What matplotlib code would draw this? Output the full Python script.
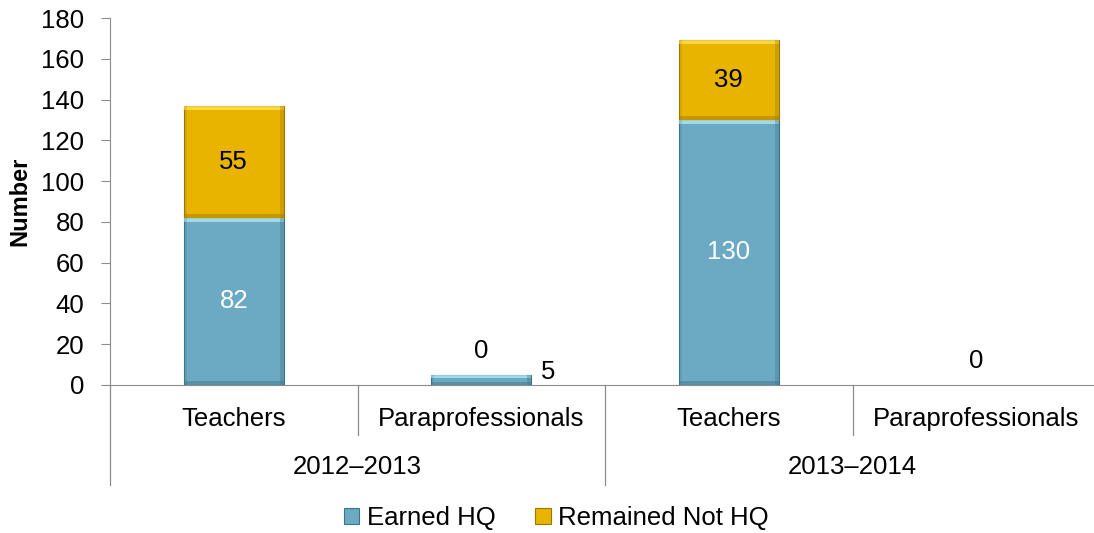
import matplotlib
matplotlib.use("Agg")
from matplotlib import pyplot as plt
from matplotlib.patches import Rectangle, Patch
from matplotlib.lines import Line2D
from matplotlib.legend_handler import HandlerPatch

plt.rcParams["font.family"] = ["Liberation Sans", "DejaVu Sans"]

# data
categories = ["Teachers", "Paraprofessionals", "Teachers", "Paraprofessionals"]
years = ["2012\u20132013", "2013\u20132014"]
earnedHQ = [82, 5, 130, 0]
notHQ = [55, 0, 39, 0]
seriesNames = ["Earned HQ", "Remained Not HQ"]

BLUE = "#6CA9C3"
BLUE_LIGHT = "#B2EAF8"
BLUE_DARK = "#3F7488"
GOLD = "#E8B400"
GOLD_LIGHT = "#FFE45A"
GOLD_DARK = "#9C7800"
AXIS_GRAY = "#8C8C8C"
FS = 18.5

fig = plt.figure(figsize=(10.94, 5.33), dpi=100)
axH = 367 / 533
ax = fig.add_axes([110 / 1094, 1 - 385 / 533, 990 / 1094, axH])

xPos = list(range(len(categories)))
barW = 0.404

blueBars = ax.bar(xPos, earnedHQ, barW, color=BLUE, edgecolor=BLUE_DARK, linewidth=0.8, zorder=3)
goldBars = ax.bar(xPos, notHQ, barW, bottom=earnedHQ, color=GOLD, edgecolor=GOLD_DARK, linewidth=0.8, zorder=3)
for rect in list(blueBars) + list(goldBars):
    if rect.get_height() == 0:
        rect.set_visible(False)

ax.set_xlim(-0.5, len(categories) - 0.5)
ax.set_ylim(0, 180)
ax.set_yticks(range(0, 181, 20))


# bevel look: light strip on top, darker strip along the bottom / right
def Bevel(bars, light, dark):
    pxX = 1 / 247.5
    pxY = 180 / 367
    for rect in bars:
        h = rect.get_height()
        if h <= 0:
            continue
        x0 = rect.get_x()
        y0 = rect.get_y()
        w = rect.get_width()
        bw = min(4 * pxY, h / 3)
        ax.add_patch(Rectangle((x0, y0 + h - bw), w, bw, color=light, alpha=0.75, lw=0, zorder=4))
        ax.add_patch(Rectangle((x0, y0), w, bw, color=dark, alpha=0.45, lw=0, zorder=4))
        ax.add_patch(Rectangle((x0 + w - 4 * pxX, y0), 4 * pxX, h, color=dark, alpha=0.35, lw=0, zorder=4))
        ax.add_patch(Rectangle((x0, y0), 3 * pxX, h, color=dark, alpha=0.2, lw=0, zorder=4))


Bevel(blueBars, BLUE_LIGHT, BLUE_DARK)
Bevel(goldBars, GOLD_LIGHT, GOLD_DARK)

# data labels
for i in xPos:
    e = earnedHQ[i]
    n = notHQ[i]
    if e >= 20:
        ax.text(i, e / 2, str(e), ha="center", va="center", color="white", fontsize=FS, zorder=5)
    elif e > 0:
        ax.annotate(str(e), (i, e / 2), xytext=(48, 6), textcoords="offset points",
                    ha="center", va="center", fontsize=FS, zorder=5)
    if n >= 20:
        ax.text(i, e + n / 2, str(n), ha="center", va="center", color="black", fontsize=FS, zorder=5)
    else:
        ax.annotate(str(n), (i, e + n), xytext=(0, 17), textcoords="offset points",
                    ha="center", va="center", fontsize=FS, zorder=5)

# axes styling
for s in ["top", "right"]:
    ax.spines[s].set_visible(False)
ax.spines["left"].set_color(AXIS_GRAY)
ax.spines["bottom"].set_color(AXIS_GRAY)
ax.tick_params(axis="y", direction="out", length=6.5, color=AXIS_GRAY, labelsize=FS, pad=12)
ax.tick_params(axis="x", length=0, labelbottom=False)
ax.set_ylabel("Number", fontsize=FS - 1.5, fontweight="bold")
ax.yaxis.set_label_coords(-0.079, 0.5)

# category labels and separators below the axis
trans = ax.get_xaxis_transform()
catY = -34 / 367
yearY = -82 / 367
for i, c in enumerate(categories):
    ax.text(i, catY, c, transform=trans, ha="center", va="center", fontsize=FS)
for g, yr in enumerate(years):
    ax.text(2 * g + 0.5, yearY, yr, transform=trans, ha="center", va="center", fontsize=FS)
for b in [0.5, 2.5]:
    ax.add_line(Line2D([b, b], [0, -50 / 367], transform=trans, color=AXIS_GRAY, lw=0.9, clip_on=False))
for b in [-0.5, 1.5, 3.5]:
    ax.add_line(Line2D([b, b], [0, -100 / 367], transform=trans, color=AXIS_GRAY, lw=0.9, clip_on=False))


# legend with small bevelled squares
class SquareHandler(HandlerPatch):
    def create_artists(self, legend, orig_handle, xdescent, ydescent, width, height, fontsize, trans):
        s = height * 0.85
        x = width - s
        y = (height - s) / 2 - ydescent
        p = Rectangle((x, y), s, s, facecolor=orig_handle.get_facecolor(),
                      edgecolor=orig_handle.get_edgecolor(), lw=0.8, transform=trans)
        return [p]


handles = [Patch(facecolor=BLUE, edgecolor=BLUE_DARK), Patch(facecolor=GOLD, edgecolor=GOLD_DARK)]
fig.legend(handles, seriesNames, loc="center", bbox_to_anchor=(557 / 1094, 1 - 518 / 533), ncol=2,
           frameon=False, fontsize=FS, handlelength=0.55, handletextpad=0.3, columnspacing=1.6,
           handler_map={Patch: SquareHandler()})

fig.savefig("out.png", dpi=100)
